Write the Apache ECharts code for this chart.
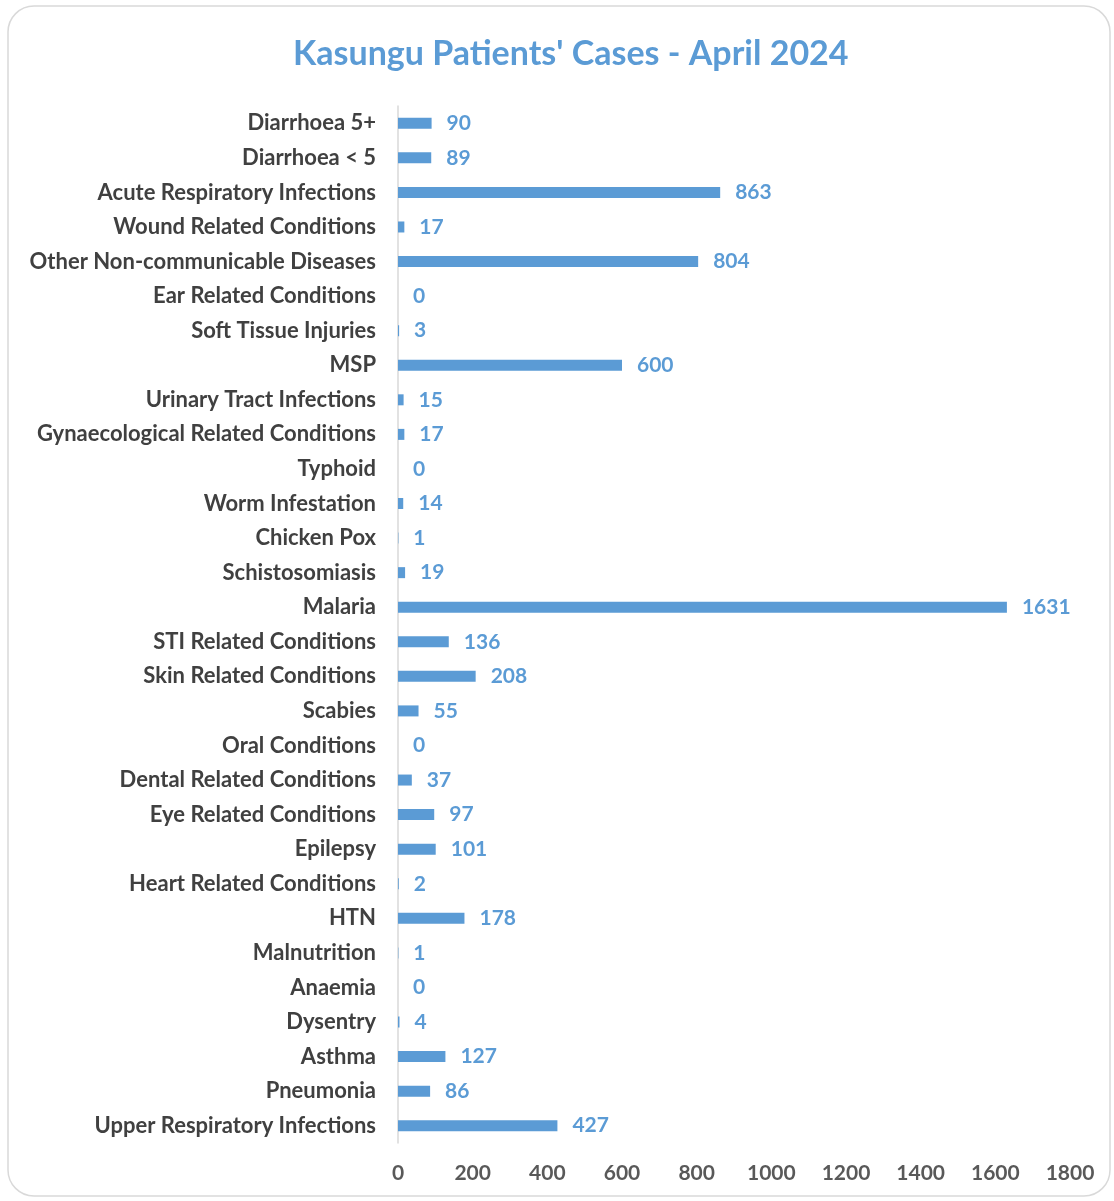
<!DOCTYPE html>
<html><head><meta charset="utf-8">
<script src="https://cdn.jsdelivr.net/npm/echarts@6/dist/echarts.min.js"></script>
<style>html,body{margin:0;padding:0;background:#fff}#c{width:1114px;height:1201px}</style>
</head><body><div id="c"></div>
<script>
const categories = ["Diarrhoea 5+","Diarrhoea < 5","Acute Respiratory Infections","Wound Related Conditions","Other Non-communicable Diseases","Ear Related Conditions","Soft Tissue Injuries","MSP","Urinary Tract Infections","Gynaecological Related Conditions","Typhoid","Worm Infestation","Chicken Pox","Schistosomiasis","Malaria","STI Related Conditions","Skin Related Conditions","Scabies","Oral Conditions","Dental Related Conditions","Eye Related Conditions","Epilepsy","Heart Related Conditions","HTN","Malnutrition","Anaemia","Dysentry","Asthma","Pneumonia","Upper Respiratory Infections"];
const cases = [90,89,863,17,804,0,3,600,15,17,0,14,1,19,1631,136,208,55,0,37,97,101,2,178,1,0,4,127,86,427];
const xTicks = [0,200,400,600,800,1000,1200,1400,1600,1800];
const title = "Kasungu Patients' Cases - April 2024";

const chart = echarts.init(document.getElementById('c'));
const font = 'Lato, "Open Sans", sans-serif';
chart.setOption({
  animation:false,
  textStyle:{fontFamily:font},
  graphic:[{type:'rect',shape:{x:8,y:6,width:1102,height:1190,r:26},style:{fill:'none',stroke:'#d9d9d9',lineWidth:1.5}}],
  title:{text:title,left:288,top:32,textStyle:{fontFamily:font,fontSize:34,fontWeight:'bold',color:'#5b9bd5'}},
  grid:{left:398,right:44,top:106,bottom:58,containLabel:false},
  xAxis:{type:'value',min:xTicks[0],max:xTicks[xTicks.length-1],interval:200,
    axisLine:{show:false},axisTick:{show:false},splitLine:{show:false},
    axisLabel:{margin:20,fontFamily:font,fontSize:21,fontWeight:'bold',color:'#595959',formatter:v=>String(v)}},
  yAxis:{type:'category',data:categories,inverse:true,
    axisLine:{show:true,lineStyle:{color:'#d9d9d9',width:1.5}},axisTick:{show:false},
    axisLabel:{margin:22,fontFamily:font,fontSize:22,fontWeight:'bold',color:'#404040'}},
  series:[{type:'bar',data:cases,barWidth:11,itemStyle:{color:'#5b9bd5'},
    label:{show:true,position:'right',distance:15,fontFamily:font,fontSize:21,fontWeight:'bold',color:'#5b9bd5'}}]
});
</script></body></html>
